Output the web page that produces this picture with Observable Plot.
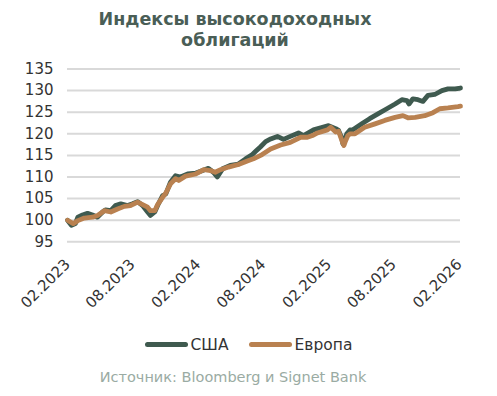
<!DOCTYPE html>
<html>
<head>
<meta charset="utf-8">
<script src="https://cdn.jsdelivr.net/npm/d3@7"></script>
<script src="https://cdn.jsdelivr.net/npm/@observablehq/plot@0.6"></script>
<style>
  html, body { margin: 0; padding: 0; background: #fff; }
  #wrap { position: relative; width: 497px; height: 396px; font-family: "DejaVu Sans", sans-serif; }
  #title { position: absolute; left: 0; top: 9px; width: 470px; text-align: center; font-weight: bold; font-size: 17.5px; line-height: 21px; color: #4a5e56; }
  #chart { position: absolute; left: 0; top: 50px; }
  #legend { position: absolute; left: 0; top: 333px; width: 497px; text-align: center; font-size: 15.5px; color: #333; }
  .item { display: inline-flex; align-items: center; margin: 0 10px; }
  .sw { display: inline-block; width: 43px; height: 5px; border-radius: 3px; margin-right: 3px; }
  #caption { position: absolute; left: 0; top: 369px; width: 466px; text-align: center; font-size: 14.5px; color: #9aaba3; }
</style>
</head>
<body>
<div id="wrap">
  <div id="title">Индексы высокодоходных<br>облигаций</div>
  <div id="chart"></div>
  <div id="legend"></div>
  <div id="caption">Источник: Bloomberg и Signet Bank</div>
</div>
<script>
const seriesNames = ["США", "Европа"];
const seriesColors = ["#3f5a4f", "#b98150"];

const usDates = ["2023-02-01","2023-02-12","2023-02-23","2023-03-02","2023-03-15","2023-03-29","2023-04-12","2023-04-26","2023-05-10","2023-05-18","2023-06-02","2023-06-15","2023-06-30","2023-07-19","2023-08-02","2023-08-16","2023-08-30","2023-09-13","2023-09-21","2023-10-03","2023-10-11","2023-10-25","2023-11-03","2023-11-16","2023-11-30","2023-12-14","2024-01-03","2024-01-26","2024-02-14","2024-03-01","2024-03-15","2024-03-26","2024-04-10","2024-05-01","2024-05-24","2024-06-13","2024-07-02","2024-07-12","2024-07-25","2024-08-08","2024-08-22","2024-09-10","2024-09-27","2024-10-16","2024-11-08","2024-11-22","2024-12-20","2025-01-09","2025-01-31","2025-02-20","2025-02-28","2025-03-09","2025-03-12","2025-03-18","2025-03-23","2025-04-01","2025-04-07","2025-05-04","2025-05-26","2025-06-18","2025-07-13","2025-08-05","2025-08-24","2025-09-07","2025-09-13","2025-09-24","2025-10-08","2025-10-22","2025-11-05","2025-11-24","2025-12-14","2025-12-31","2026-01-20","2026-02-04"];
const usValues = [100,98.8,99.2,100.7,101.2,101.6,101.2,100.7,101.9,102.4,102.2,103.4,103.8,103.4,103.8,104.3,103.4,101.9,101.1,101.9,103.4,105.7,106.1,108.8,110.3,110.0,110.7,110.9,111.5,112.0,111.1,110.0,111.9,112.7,113.0,114.2,115.2,116.0,117.0,118.2,118.8,119.4,118.7,119.4,120.2,119.6,120.9,121.4,121.9,121.2,120.8,119.0,117.7,118.8,120.0,120.9,120.8,122.3,123.5,124.6,125.8,126.9,127.9,127.7,126.9,128.1,127.9,127.5,128.9,129.1,130.0,130.4,130.4,130.6];

const euDates = ["2023-02-01","2023-02-17","2023-03-02","2023-03-20","2023-04-12","2023-04-26","2023-05-15","2023-06-02","2023-06-21","2023-07-10","2023-07-27","2023-08-16","2023-08-30","2023-09-13","2023-09-21","2023-10-03","2023-10-11","2023-10-25","2023-11-03","2023-11-16","2023-11-30","2023-12-09","2023-12-28","2024-01-26","2024-02-17","2024-03-07","2024-03-20","2024-04-04","2024-04-26","2024-05-24","2024-06-18","2024-07-05","2024-07-25","2024-08-22","2024-09-19","2024-10-16","2024-11-14","2024-12-03","2024-12-17","2024-12-31","2025-01-28","2025-02-06","2025-02-20","2025-02-28","2025-03-09","2025-03-15","2025-03-18","2025-03-26","2025-04-01","2025-04-15","2025-05-12","2025-06-10","2025-07-07","2025-08-05","2025-08-27","2025-09-10","2025-09-30","2025-10-27","2025-11-19","2025-12-08","2025-12-31","2026-01-28","2026-02-04"];
const euValues = [100,99.2,99.9,100.5,100.7,101.1,102.2,101.9,102.6,103.2,103.4,104.2,103.6,103.0,102.2,102.2,103.6,105.3,106.3,108.4,109.6,109.2,110.2,110.7,111.7,111.5,111.1,111.7,112.3,112.9,113.7,114.2,115.0,116.5,117.4,118.0,119.2,119.2,119.6,120.2,120.9,121.5,120.4,120.6,118.5,117.3,118.0,119.6,120.0,120.0,121.5,122.3,123.1,123.8,124.2,123.7,123.8,124.2,124.9,125.8,126.0,126.3,126.4];

const tickDates = ["2023-02-01","2023-08-01","2024-02-01","2024-08-01","2025-02-01","2025-08-01","2026-02-01"];
const tickLabels = ["02.2023","08.2023","02.2024","08.2024","02.2025","08.2025","02.2026"];
const yTicks = [95,100,105,110,115,120,125,130,135];

const parse = d3.utcParse("%Y-%m-%d");
const rows = [
  ...usDates.map((d, i) => ({date: parse(d), value: usValues[i], series: seriesNames[0]})),
  ...euDates.map((d, i) => ({date: parse(d), value: euValues[i], series: seriesNames[1]}))
];
const ticks = tickDates.map(parse);
const labelOf = new Map(ticks.map((t, i) => [+t, tickLabels[i]]));

const chart = Plot.plot({
  width: 497,
  height: 270,
  marginLeft: 67,
  marginRight: 37,
  marginTop: 18.5,
  marginBottom: 78.7,
  style: {fontFamily: "DejaVu Sans, sans-serif", background: "transparent"},
  x: {type: "utc", domain: [parse("2023-02-01"), parse("2026-02-04")]},
  y: {domain: [95, 135]},
  color: {domain: seriesNames, range: seriesColors},
  marks: [
    Plot.gridY(yTicks, {stroke: "#d9d9d9", strokeOpacity: 1, strokeWidth: 2}),
    Plot.axisY(yTicks, {tickSize: 0, tickPadding: 14, fontSize: 15, fill: "#333", label: null}),
    Plot.axisX(ticks, {tickSize: 0, tickPadding: 20, tickRotate: -45, fontSize: 15, fill: "#333", label: null, tickFormat: d => labelOf.get(+d)}),
    Plot.line(rows, {x: "date", y: "value", z: "series", stroke: "series", strokeWidth: 4.8, strokeLinejoin: "round", strokeLinecap: "round"})
  ]
});
document.getElementById("chart").appendChild(chart);

const legend = document.getElementById("legend");
seriesNames.forEach((n, i) => {
  const it = document.createElement("span");
  it.className = "item";
  const sw = document.createElement("span");
  sw.className = "sw";
  sw.style.background = seriesColors[i];
  it.appendChild(sw);
  it.appendChild(document.createTextNode(n));
  legend.appendChild(it);
});
</script>
</body>
</html>
